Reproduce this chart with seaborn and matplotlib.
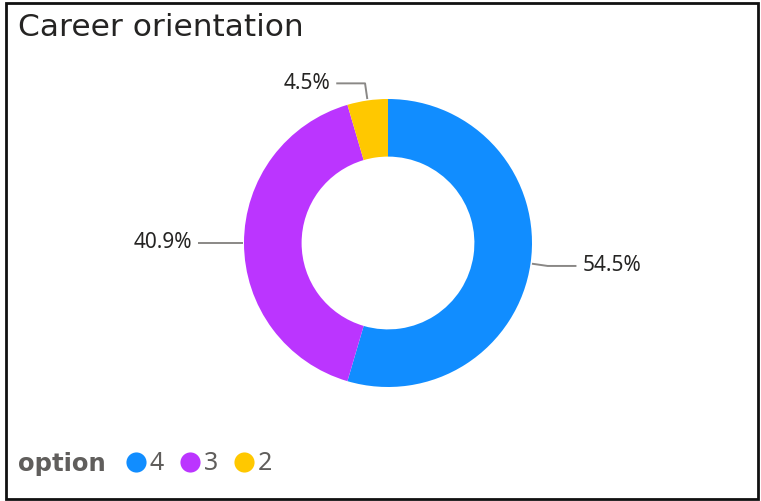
import numpy as np
import matplotlib.pyplot as plt
import seaborn as sns
from matplotlib.lines import Line2D
from matplotlib.patches import Rectangle

# ---------------------------------------------------------------------------
# Data
# ---------------------------------------------------------------------------
options = ["4", "3", "2"]
counts = [12, 9, 1]
colors = ["#118DFF", "#BB35FF", "#FFC800"]

title = "Career orientation"
legend_title = "option"

# ---------------------------------------------------------------------------
# Figure
# ---------------------------------------------------------------------------
sns.set_theme(style="white")
plt.rcParams["font.family"] = ["Noto Sans", "DejaVu Sans"]

W, H = 761, 501
fig = plt.figure(figsize=(W / 100, H / 100), dpi=100)
fig.patch.set_facecolor("white")

# donut centre / radius in pixels
cx, cy, r = 388, 243, 144
ax = fig.add_axes([(cx - r) / W, (H - cy - r) / H, 2 * r / W, 2 * r / H])

wedges, _ = ax.pie(
    counts,
    colors=colors,
    startangle=90,
    counterclock=False,
    radius=1,
    wedgeprops=dict(width=0.4, edgecolor="none"),
)
ax.set_xlim(-1, 1)
ax.set_ylim(-1, 1)
ax.set_aspect("auto")
ax.axis("off")

# --- percentage labels with leader lines ---
total = sum(counts)
for w, c in zip(wedges, counts):
    mid = np.deg2rad((w.theta1 + w.theta2) / 2)
    dx, dy = np.cos(mid), np.sin(mid)
    p0 = (1.01 * dx, 1.01 * dy)
    p1 = (1.12 * dx, 1.12 * dy)
    side = 1 if dx >= 0 else -1
    p2 = (p1[0] + side * 0.2, p1[1])
    ax.plot([p0[0], p1[0], p2[0]], [p0[1], p1[1], p2[1]],
            color="#8a8886", lw=1.4, clip_on=False, solid_capstyle="butt")
    ax.text(p2[0] + side * 0.04, p2[1], f"{100 * c / total:.1f}%",
            ha="left" if side > 0 else "right", va="center",
            fontsize=15, color="#252423", clip_on=False)

# --- title ---
fig.text(18 / W, 1 - 28 / H, title, fontsize=22.5, color="#252423",
         ha="left", va="center", family=["DejaVu Sans"])

# --- legend ---
fig.text(18 / W, 1 - 464 / H, legend_title, fontsize=17.5, fontweight="bold",
         color="#605E5C", ha="left", va="center", family=["DejaVu Sans"])
handles = [Line2D([], [], marker="o", linestyle="none", markersize=14.5,
                  markerfacecolor=col, markeredgecolor="none") for col in colors]
fig.legend(handles, options, ncol=len(options), frameon=False,
           loc="center left", bbox_to_anchor=(126 / W, 1 - 464 / H),
           handletextpad=0.16, columnspacing=0.62, handlelength=0.8,
           fontsize=18, labelcolor="#605E5C", borderaxespad=0, borderpad=0)

# --- border ---
fig.add_artist(Rectangle((6 / W, 2 / H), 752 / W, 496 / H,
                         transform=fig.transFigure, fill=False,
                         edgecolor="#111111", lw=2))

fig.savefig("out.png", dpi=100)
